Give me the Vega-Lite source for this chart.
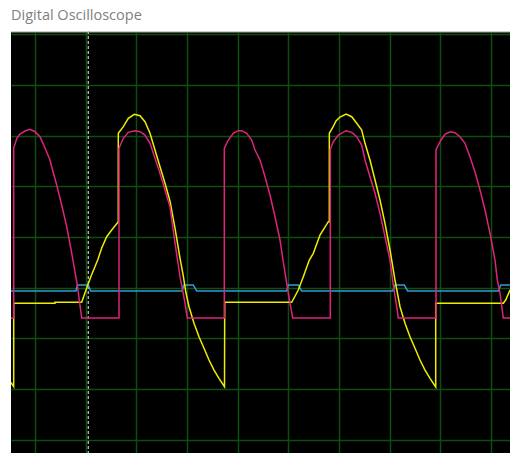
{
  "$schema": "https://vega.github.io/schema/vega-lite/v6.json",
  "autosize": {"type": "none"},
  "width": 499,
  "height": 422,
  "padding": {"left": 11, "top": 31, "right": 0, "bottom": 0},
  "background": "#ffffff",
  "title": {
    "text": "Digital Oscilloscope",
    "anchor": "start",
    "frame": "group",
    "baseline": "alphabetic",
    "offset": -4,
    "font": "Open Sans",
    "fontSize": 14.5,
    "fontWeight": "normal",
    "color": "#808080"
  },
  "config": {
    "view": {"fill": "#000000", "stroke": null},
    "axis": {
      "grid": true,
      "labels": false,
      "ticks": false,
      "domain": false,
      "title": null,
      "gridColor": "#0e4e0e",
      "gridWidth": 1.5,
      "gridOpacity": 1
    }
  },
  "datasets": {
    "traces": [
      {"ch": "A", "t": 0.05, "v": -5.744},
      {"ch": "A", "t": 0.158, "v": -5.902},
      {"ch": "A", "t": 0.158, "v": -2.617},
      {"ch": "A", "t": 1.788, "v": -2.617},
      {"ch": "A", "t": 1.788, "v": -2.578},
      {"ch": "A", "t": 2.842, "v": -2.578},
      {"ch": "A", "t": 3.012, "v": -2.092},
      {"ch": "A", "t": 3.198, "v": -1.579},
      {"ch": "A", "t": 3.474, "v": -0.908},
      {"ch": "A", "t": 3.632, "v": -0.434},
      {"ch": "A", "t": 3.829, "v": 0.012},
      {"ch": "A", "t": 4.027, "v": 0.276},
      {"ch": "A", "t": 4.287, "v": 0.604},
      {"ch": "A", "t": 4.287, "v": 4.094},
      {"ch": "A", "t": 4.485, "v": 4.355},
      {"ch": "A", "t": 4.682, "v": 4.686},
      {"ch": "A", "t": 4.919, "v": 4.844},
      {"ch": "A", "t": 5.144, "v": 4.789},
      {"ch": "A", "t": 5.341, "v": 4.552},
      {"ch": "A", "t": 5.539, "v": 4.094},
      {"ch": "A", "t": 5.736, "v": 3.435},
      {"ch": "A", "t": 5.934, "v": 2.775},
      {"ch": "A", "t": 6.131, "v": 2.12},
      {"ch": "A", "t": 6.328, "v": 1.421},
      {"ch": "A", "t": 6.526, "v": 0.355},
      {"ch": "A", "t": 6.723, "v": -0.829},
      {"ch": "A", "t": 6.854, "v": -1.54},
      {"ch": "A", "t": 6.96, "v": -2.211},
      {"ch": "A", "t": 7.079, "v": -2.752},
      {"ch": "A", "t": 7.276, "v": -3.407},
      {"ch": "A", "t": 7.473, "v": -3.936},
      {"ch": "A", "t": 7.671, "v": -4.394},
      {"ch": "A", "t": 7.868, "v": -4.856},
      {"ch": "A", "t": 8.066, "v": -5.251},
      {"ch": "A", "t": 8.263, "v": -5.578},
      {"ch": "A", "t": 8.48, "v": -5.91},
      {"ch": "A", "t": 8.488, "v": -2.578},
      {"ch": "A", "t": 11.133, "v": -2.578},
      {"ch": "A", "t": 11.394, "v": -2.092},
      {"ch": "A", "t": 11.591, "v": -1.567},
      {"ch": "A", "t": 11.828, "v": -0.908},
      {"ch": "A", "t": 11.986, "v": -0.644},
      {"ch": "A", "t": 12.25, "v": 0.079},
      {"ch": "A", "t": 12.578, "v": 0.604},
      {"ch": "A", "t": 12.618, "v": 0.604},
      {"ch": "A", "t": 12.618, "v": 4.094},
      {"ch": "A", "t": 12.764, "v": 4.343},
      {"ch": "A", "t": 12.882, "v": 4.58},
      {"ch": "A", "t": 13.04, "v": 4.737},
      {"ch": "A", "t": 13.277, "v": 4.856},
      {"ch": "A", "t": 13.502, "v": 4.749},
      {"ch": "A", "t": 13.699, "v": 4.489},
      {"ch": "A", "t": 13.897, "v": 4.224},
      {"ch": "A", "t": 14.027, "v": 3.699},
      {"ch": "A", "t": 14.224, "v": 3.04},
      {"ch": "A", "t": 14.422, "v": 2.25},
      {"ch": "A", "t": 14.619, "v": 1.461},
      {"ch": "A", "t": 14.816, "v": 0.541},
      {"ch": "A", "t": 15.014, "v": -0.513},
      {"ch": "A", "t": 15.211, "v": -1.698},
      {"ch": "A", "t": 15.409, "v": -2.752},
      {"ch": "A", "t": 15.606, "v": -3.407},
      {"ch": "A", "t": 15.803, "v": -3.936},
      {"ch": "A", "t": 16.001, "v": -4.394},
      {"ch": "A", "t": 16.198, "v": -4.856},
      {"ch": "A", "t": 16.396, "v": -5.251},
      {"ch": "A", "t": 16.593, "v": -5.578},
      {"ch": "A", "t": 16.818, "v": -5.922},
      {"ch": "A", "t": 16.818, "v": -2.617},
      {"ch": "A", "t": 19.487, "v": -2.617},
      {"ch": "A", "t": 19.581, "v": -2.487},
      {"ch": "A", "t": 19.751, "v": -2.092},

      {"ch": "B", "t": 0.05, "v": -2.132},
      {"ch": "B", "t": 2.617, "v": -2.132},
      {"ch": "B", "t": 2.669, "v": -1.895},
      {"ch": "B", "t": 3.103, "v": -1.895},
      {"ch": "B", "t": 3.198, "v": -2.132},
      {"ch": "B", "t": 6.802, "v": -2.132},
      {"ch": "B", "t": 6.881, "v": -1.895},
      {"ch": "B", "t": 7.248, "v": -1.895},
      {"ch": "B", "t": 7.383, "v": -2.132},
      {"ch": "B", "t": 10.936, "v": -2.132},
      {"ch": "B", "t": 10.999, "v": -1.895},
      {"ch": "B", "t": 11.394, "v": -1.895},
      {"ch": "B", "t": 11.528, "v": -2.132},
      {"ch": "B", "t": 15.121, "v": -2.132},
      {"ch": "B", "t": 15.211, "v": -1.895},
      {"ch": "B", "t": 15.579, "v": -1.895},
      {"ch": "B", "t": 15.713, "v": -2.132},
      {"ch": "B", "t": 19.289, "v": -2.132},
      {"ch": "B", "t": 19.384, "v": -1.895},
      {"ch": "B", "t": 19.751, "v": -1.895},

      {"ch": "C", "t": 0.05, "v": -3.2},
      {"ch": "C", "t": 0.158, "v": -3.2},
      {"ch": "C", "t": 0.158, "v": 3.514},
      {"ch": "C", "t": 0.288, "v": 3.908},
      {"ch": "C", "t": 0.407, "v": 4.066},
      {"ch": "C", "t": 0.604, "v": 4.185},
      {"ch": "C", "t": 0.801, "v": 4.252},
      {"ch": "C", "t": 0.999, "v": 4.157},
      {"ch": "C", "t": 1.196, "v": 3.96},
      {"ch": "C", "t": 1.394, "v": 3.514},
      {"ch": "C", "t": 1.591, "v": 3.04},
      {"ch": "C", "t": 1.658, "v": 2.775},
      {"ch": "C", "t": 1.856, "v": 2.053},
      {"ch": "C", "t": 2.053, "v": 1.263},
      {"ch": "C", "t": 2.25, "v": 0.407},
      {"ch": "C", "t": 2.448, "v": -0.632},
      {"ch": "C", "t": 2.669, "v": -1.895},
      {"ch": "C", "t": 2.842, "v": -3.2},
      {"ch": "C", "t": 4.315, "v": -3.2},
      {"ch": "C", "t": 4.315, "v": 3.502},
      {"ch": "C", "t": 4.485, "v": 3.897},
      {"ch": "C", "t": 4.682, "v": 4.133},
      {"ch": "C", "t": 4.947, "v": 4.197},
      {"ch": "C", "t": 5.144, "v": 4.157},
      {"ch": "C", "t": 5.341, "v": 4.027},
      {"ch": "C", "t": 5.539, "v": 3.699},
      {"ch": "C", "t": 5.736, "v": 3.107},
      {"ch": "C", "t": 5.934, "v": 2.515},
      {"ch": "C", "t": 6.131, "v": 1.856},
      {"ch": "C", "t": 6.328, "v": 1.196},
      {"ch": "C", "t": 6.526, "v": -0.237},
      {"ch": "C", "t": 6.723, "v": -1.567},
      {"ch": "C", "t": 6.79, "v": -1.895},
      {"ch": "C", "t": 6.921, "v": -2.606},
      {"ch": "C", "t": 7.011, "v": -3.2},
      {"ch": "C", "t": 8.472, "v": -3.2},
      {"ch": "C", "t": 8.472, "v": 3.502},
      {"ch": "C", "t": 8.63, "v": 3.829},
      {"ch": "C", "t": 8.827, "v": 4.094},
      {"ch": "C", "t": 9.025, "v": 4.197},
      {"ch": "C", "t": 9.159, "v": 4.197},
      {"ch": "C", "t": 9.357, "v": 4.094},
      {"ch": "C", "t": 9.554, "v": 3.829},
      {"ch": "C", "t": 9.684, "v": 3.435},
      {"ch": "C", "t": 9.882, "v": 3.04},
      {"ch": "C", "t": 10.079, "v": 2.381},
      {"ch": "C", "t": 10.276, "v": 1.658},
      {"ch": "C", "t": 10.474, "v": 0.801},
      {"ch": "C", "t": 10.671, "v": -0.118},
      {"ch": "C", "t": 10.79, "v": -0.908},
      {"ch": "C", "t": 10.928, "v": -1.777},
      {"ch": "C", "t": 11.066, "v": -2.606},
      {"ch": "C", "t": 11.173, "v": -3.2},
      {"ch": "C", "t": 12.657, "v": -3.2},
      {"ch": "C", "t": 12.657, "v": 3.462},
      {"ch": "C", "t": 12.775, "v": 3.762},
      {"ch": "C", "t": 12.973, "v": 4.027},
      {"ch": "C", "t": 13.277, "v": 4.197},
      {"ch": "C", "t": 13.502, "v": 4.133},
      {"ch": "C", "t": 13.699, "v": 3.96},
      {"ch": "C", "t": 13.897, "v": 3.632},
      {"ch": "C", "t": 14.027, "v": 3.04},
      {"ch": "C", "t": 14.224, "v": 2.381},
      {"ch": "C", "t": 14.422, "v": 1.725},
      {"ch": "C", "t": 14.619, "v": 0.936},
      {"ch": "C", "t": 14.816, "v": 0.012},
      {"ch": "C", "t": 15.014, "v": -0.908},
      {"ch": "C", "t": 15.144, "v": -1.895},
      {"ch": "C", "t": 15.278, "v": -2.752},
      {"ch": "C", "t": 15.342, "v": -3.2},
      {"ch": "C", "t": 16.83, "v": -3.2},
      {"ch": "C", "t": 16.83, "v": 3.435},
      {"ch": "C", "t": 16.988, "v": 3.762},
      {"ch": "C", "t": 17.185, "v": 4.054},
      {"ch": "C", "t": 17.383, "v": 4.157},
      {"ch": "C", "t": 17.58, "v": 4.118},
      {"ch": "C", "t": 17.777, "v": 3.96},
      {"ch": "C", "t": 17.975, "v": 3.699},
      {"ch": "C", "t": 18.173, "v": 3.158},
      {"ch": "C", "t": 18.37, "v": 2.566},
      {"ch": "C", "t": 18.567, "v": 1.856},
      {"ch": "C", "t": 18.765, "v": 1.066},
      {"ch": "C", "t": 18.962, "v": 0.146},
      {"ch": "C", "t": 19.159, "v": -0.908},
      {"ch": "C", "t": 19.25, "v": -1.698},
      {"ch": "C", "t": 19.356, "v": -2.211},
      {"ch": "C", "t": 19.487, "v": -3.2},
      {"ch": "C", "t": 19.751, "v": -3.2}
    ],
    "frame": [
      {"edge": "outer", "v": 8.113},
      {"edge": "inner", "v": 8.073}
    ],
    "cursor": [
      {"name": "cursor 1", "t": 3.103}
    ]
  },
  "layer": [
    {
      "data": {"name": "frame"},
      "mark": {"type": "rule", "strokeWidth": 1},
      "encoding": {
        "y": {
          "field": "v",
          "type": "quantitative",
          "scale": {"domain": [-8.527, 8.133], "nice": false, "zero": false},
          "axis": {"values": [-8, -7, -6, -5, -4, -3, -2, -1, 0, 1, 2, 3, 4, 5, 6, 7, 8]}
        },
        "color": {
          "field": "edge",
          "type": "nominal",
          "scale": {"domain": ["outer", "inner"], "range": ["#cfcfcf", "#5a5a5a"]},
          "legend": null
        }
      }
    },
    {
      "data": {"name": "cursor"},
      "mark": {"type": "rule", "color": "#b4b4b4", "strokeWidth": 1.3, "strokeDash": [3, 2]},
      "encoding": {
        "x": {
          "field": "t",
          "type": "quantitative",
          "scale": {"domain": [0.0513, 19.751], "nice": false, "zero": false},
          "axis": {"values": [1, 2, 3, 4, 5, 6, 7, 8, 9, 10, 11, 12, 13, 14, 15, 16, 17, 18, 19]}
        }
      }
    },
    {
      "data": {"name": "traces"},
      "transform": [{"filter": "datum.ch === 'B'"}],
      "mark": {"type": "line", "color": "#2b9fd9", "strokeWidth": 1.5, "clip": true},
      "encoding": {
        "x": {"field": "t", "type": "quantitative"},
        "y": {"field": "v", "type": "quantitative"},
        "order": {"value": null}
      }
    },
    {
      "data": {"name": "traces"},
      "transform": [{"filter": "datum.ch === 'A'"}],
      "mark": {"type": "line", "color": "#eeee00", "strokeWidth": 1.5, "clip": true},
      "encoding": {
        "x": {"field": "t", "type": "quantitative"},
        "y": {"field": "v", "type": "quantitative"},
        "order": {"value": null}
      }
    },
    {
      "data": {"name": "traces"},
      "transform": [{"filter": "datum.ch === 'C'"}],
      "mark": {"type": "line", "color": "#e0237c", "strokeWidth": 1.5, "clip": true},
      "encoding": {
        "x": {"field": "t", "type": "quantitative"},
        "y": {"field": "v", "type": "quantitative"},
        "order": {"value": null}
      }
    }
  ]
}
